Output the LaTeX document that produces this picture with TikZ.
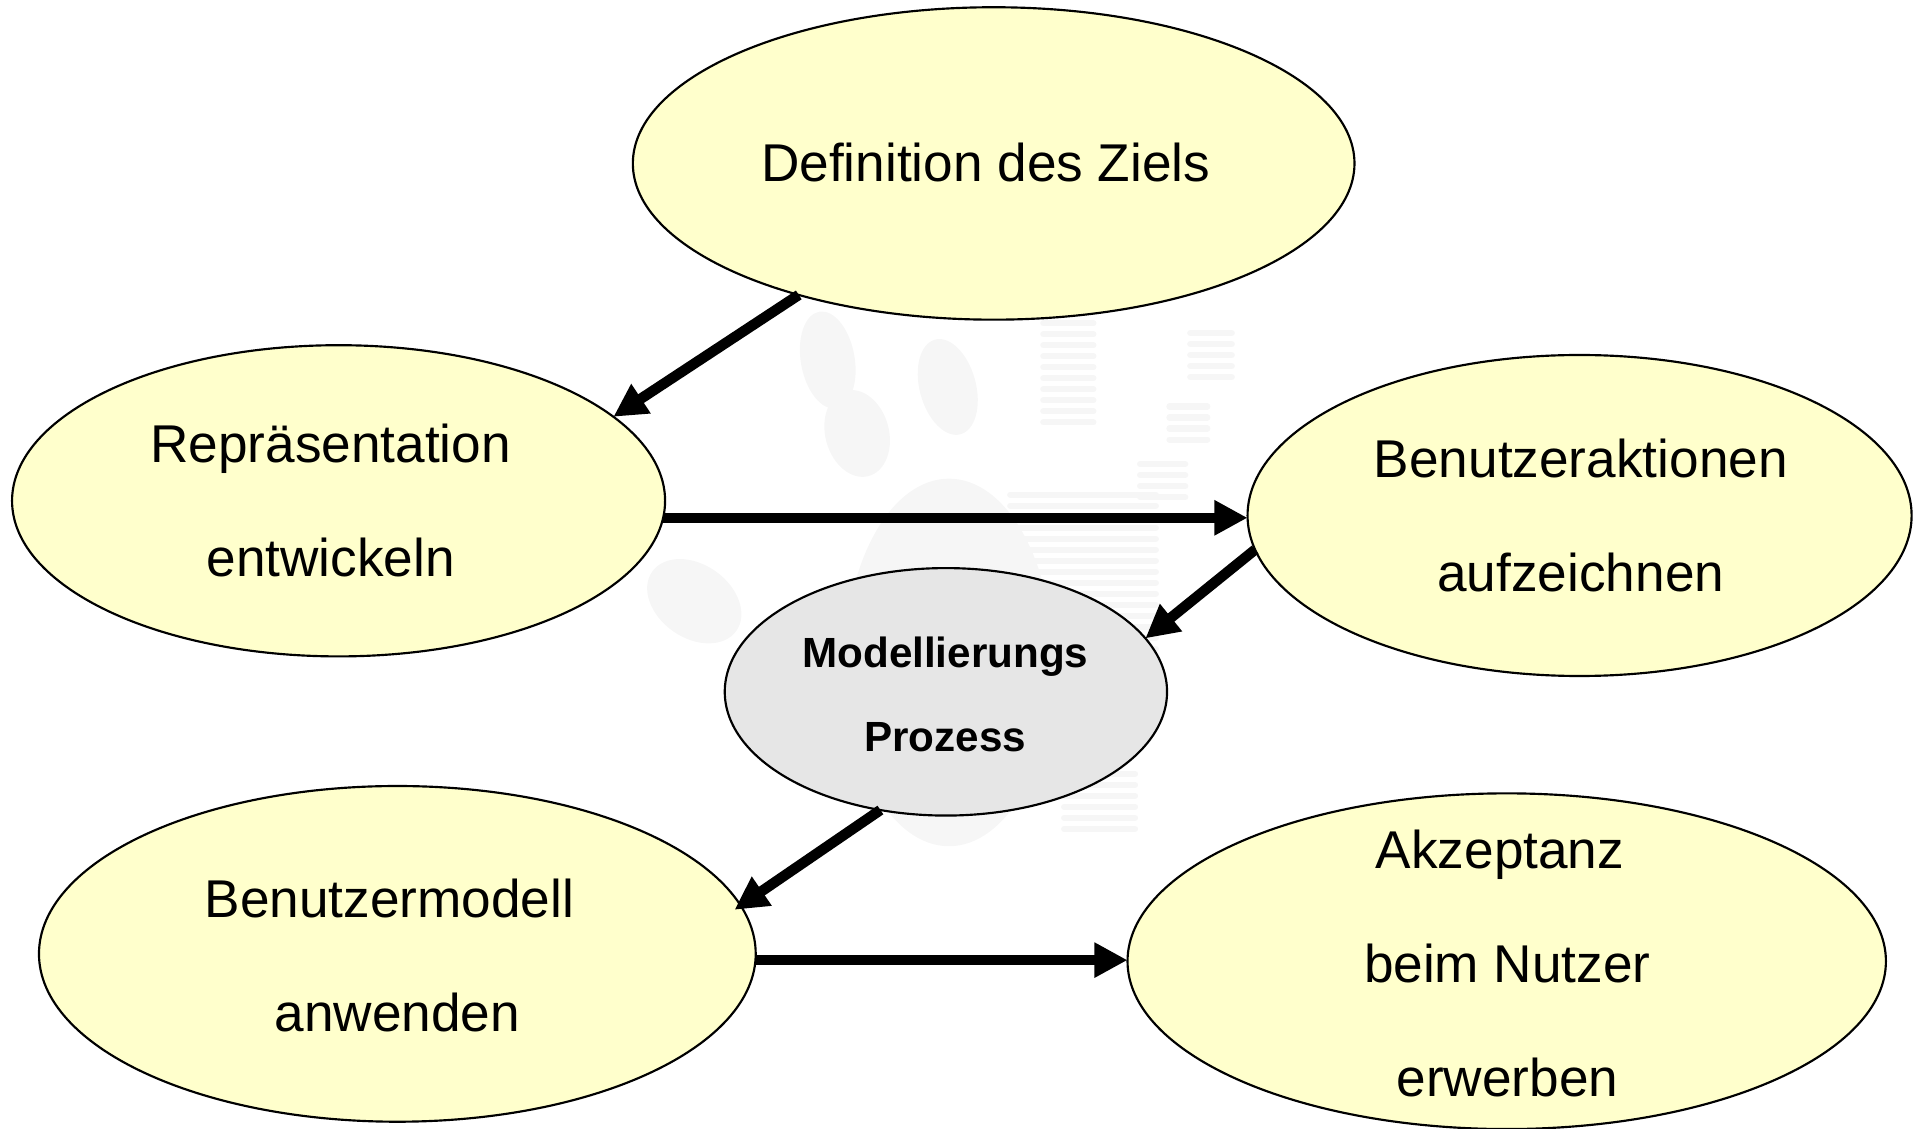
\documentclass[tikz,border=0pt]{standalone}
\usepackage{fontspec}
\setmainfont{Liberation Sans}
\usetikzlibrary{shapes.geometric,arrows.meta}
\definecolor{fillY}{HTML}{FFFFCC}
\definecolor{fillG}{HTML}{E6E6E6}
\definecolor{wm}{HTML}{F6F6F6}
\begin{document}
\begin{tikzpicture}[x=0.01cm,y=-0.01cm,
  bubble/.style={ellipse,draw=black,line width=0.5pt,fill=fillY,inner sep=0pt,outer sep=0pt},
  hub/.style={bubble,fill=fillG},
  txt/.style={align=center,font=\fontsize{12.35}{26.5}\selectfont,inner sep=0pt},
  btxt/.style={align=center,font=\fontsize{9.8}{19.6}\selectfont\bfseries,inner sep=0pt},
  flow/.style={line width=0.085cm,-{Triangle[length=0.27cm,width=0.27cm]}},
  wmblob/.style={fill=wm,draw=none},
  wmstripe/.style={draw=wm,line width=0.05cm,line cap=round}]
\useasboundingbox (0,0) rectangle (1568,922);
% faint hand watermark
\fill[wmblob,rotate around={10:(676,294)}] (676,294) ellipse [x radius=0.22cm,y radius=0.40cm];
\fill[wmblob,rotate around={15:(774,316)}] (774,316) ellipse [x radius=0.23cm,y radius=0.40cm];
\fill[wmblob,rotate around={15:(700,354)}] (700,354) ellipse [x radius=0.26cm,y radius=0.36cm];
\fill[wmblob,rotate around={-35:(567,491)}] (567,491) ellipse [x radius=0.42cm,y radius=0.30cm];
\fill[wmblob] (775,541) ellipse [x radius=0.85cm,y radius=1.50cm];
\foreach \yy in {264,273,...,352} \draw[wmstripe] (852,\yy) -- (893,\yy);
\foreach \yy in {272,281,...,308} \draw[wmstripe] (972,\yy) -- (1006,\yy);
\foreach \yy in {332,341,...,359} \draw[wmstripe] (955,\yy) -- (986,\yy);
\foreach \yy in {379,388,...,406} \draw[wmstripe] (931,\yy) -- (968,\yy);
\foreach \yy in {404,413,...,540} \draw[wmstripe] (825,\yy) -- (944,\yy);
\foreach \yy in {632,641,...,680} \draw[wmstripe] (869,\yy) -- (927,\yy);
% ellipses
\node[bubble,minimum width=5.89cm,minimum height=2.55cm] (ziel) at (811.5,133.5) {};
\node[bubble,minimum width=5.33cm,minimum height=2.54cm] (rep) at (276.5,409) {};
\node[bubble,minimum width=5.42cm,minimum height=2.62cm] (akt) at (1290,421) {};
\node[hub,minimum width=3.61cm,minimum height=2.02cm] (mod) at (772.5,565) {};
\node[bubble,minimum width=5.85cm,minimum height=2.74cm] (bmod) at (324.5,779) {};
\node[bubble,minimum width=6.19cm,minimum height=2.74cm] (akz) at (1230.5,785) {};
% texts
\node[txt] (tziel) at (805,133) {Definition des Ziels};
\node[txt] (trep) at (270,409) {Repräsentation\\entwickeln};
\node[txt] (takt) at (1291,421) {Benutzeraktionen\\aufzeichnen};
\node[btxt] (tmod) at (772,567) {Modellierungs\\Prozess};
\node[txt] (tbmod) at (320,780) {Benutzermodell\hspace*{0.04cm}\\\hspace*{0.09cm}anwenden};
\node[txt] (takz) at (1231,787) {Akzeptanz\hspace*{0.12cm}\\beim Nutzer\\erwerben};
% connectors
\draw[flow] (ziel.214.7) -- (rep.17);
\draw[flow] (rep.-3.3) -- (rep.-3.3 -| akt.west);
\draw[flow] (akt.186) -- (mod.15.8);
\draw[flow,shorten >=-0.06cm] (mod.241.5) -- (bmod.8);
\draw[flow] (bmod.-1) -- (bmod.-1 -| akz.west);
\end{tikzpicture}
\end{document}
